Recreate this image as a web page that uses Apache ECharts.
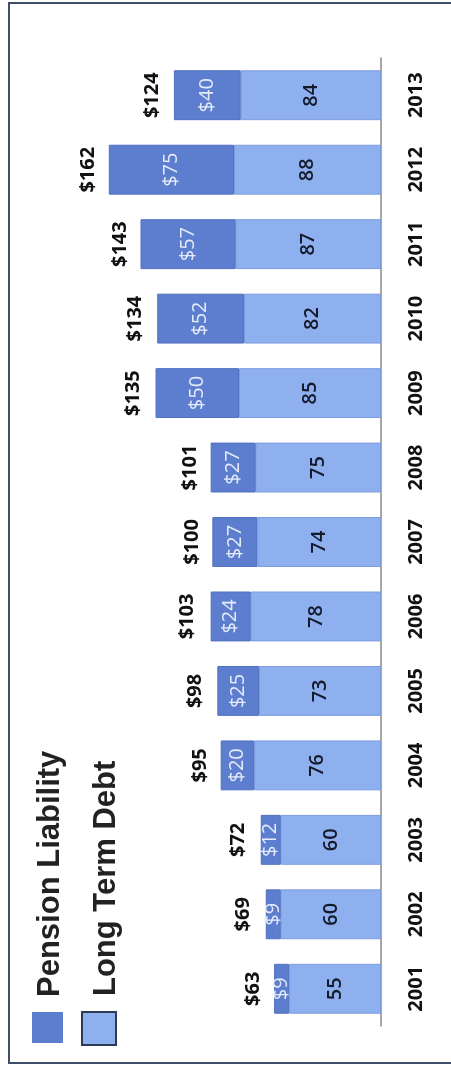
<!DOCTYPE html>
<html>
<head>
<meta charset="utf-8">
<script src="https://cdn.jsdelivr.net/npm/echarts@6/dist/echarts.min.js"></script>
<style>
  html, body { margin: 0; padding: 0; background: #fff; }
  #main { width: 451px; height: 1066px; }
</style>
</head>
<body>
<div id="main"></div>
<script>
var years = ['2001', '2002', '2003', '2004', '2005', '2006', '2007', '2008', '2009', '2010', '2011', '2012', '2013'];
var pension = [9, 9, 12, 20, 25, 24, 27, 27, 50, 52, 57, 75, 40];
var longTermDebt = [55, 60, 60, 76, 73, 78, 74, 75, 85, 82, 87, 88, 84];
var totals = [63, 69, 72, 95, 98, 103, 100, 101, 135, 134, 143, 162, 124];

var chartDom = document.getElementById('main');
var myChart = echarts.init(chartDom);
var option;

var pensionColor = '#5d7ece';
var debtColor = '#8fb0ee';
var numFont = '"Open Sans", sans-serif';

option = {
  animation: false,
  backgroundColor: '#fff',
  grid: { left: 47, right: 70, top: 58, bottom: 40 },
  xAxis: {
    type: 'value',
    inverse: true,
    min: 0,
    max: 200,
    show: false
  },
  yAxis: {
    type: 'category',
    position: 'right',
    data: years,
    axisLine: { lineStyle: { color: '#8a8a8a', width: 1.5 } },
    axisTick: { show: false },
    axisLabel: {
      rotate: 90,
      margin: 25,
      color: '#111',
      fontWeight: 'bold',
      fontSize: 20,
      fontFamily: numFont
    }
  },
  series: [
    {
      name: 'Long Term Debt',
      type: 'bar',
      stack: 'debt',
      barCategoryGap: '33%',
      data: longTermDebt,
      itemStyle: { color: debtColor, borderColor: '#7d9be0', borderWidth: 1 },
      label: {
        show: true,
        position: 'inside',
        rotate: 90,
        color: '#141a2c',
        fontWeight: 600,
        fontSize: 20,
        fontFamily: numFont
      }
    },
    {
      name: 'Pension Liability',
      type: 'bar',
      stack: 'debt',
      data: pension,
      itemStyle: { color: pensionColor, borderColor: '#4f6fbf', borderWidth: 1 },
      label: {
        show: true,
        position: 'inside',
        rotate: 90,
        color: '#e4ebfa',
        fontSize: 20,
        fontFamily: numFont,
        formatter: function (p) { return '$' + p.value; }
      }
    },
    {
      name: 'Total',
      type: 'bar',
      barGap: '-100%',
      data: totals,
      z: 0,
      itemStyle: { color: 'rgba(0,0,0,0)' },
      label: {
        show: true,
        position: 'left',
        distance: 12,
        rotate: 90,
        align: 'center',
        verticalAlign: 'bottom',
        color: '#111',
        fontWeight: 'bold',
        fontSize: 20,
        fontFamily: numFont,
        formatter: function (p) { return '$' + p.value; }
      }
    }
  ],
  graphic: [
    {
      type: 'rect',
      shape: { x: 9, y: 3, width: 500, height: 1060 },
      style: { fill: 'none', stroke: '#3f4d6b', lineWidth: 2 }
    },
    {
      type: 'rect',
      shape: { x: 32, y: 1012, width: 31, height: 31 },
      style: { fill: pensionColor }
    },
    {
      type: 'rect',
      shape: { x: 82, y: 1012, width: 34, height: 33 },
      style: { fill: debtColor, stroke: '#2d3a55', lineWidth: 2 }
    },
    {
      type: 'text',
      x: 50,
      y: 997,
      rotation: Math.PI / 2,
      style: {
        text: 'Pension Liability',
        fill: '#222',
        font: 'bold 31px "Liberation Sans", Arial, sans-serif',
        align: 'left',
        verticalAlign: 'middle'
      }
    },
    {
      type: 'text',
      x: 106,
      y: 996,
      rotation: Math.PI / 2,
      style: {
        text: 'Long Term Debt',
        fill: '#222',
        font: 'bold 31px "Liberation Sans", Arial, sans-serif',
        align: 'left',
        verticalAlign: 'middle'
      }
    }
  ]
};

option && myChart.setOption(option);
</script>
</body>
</html>
